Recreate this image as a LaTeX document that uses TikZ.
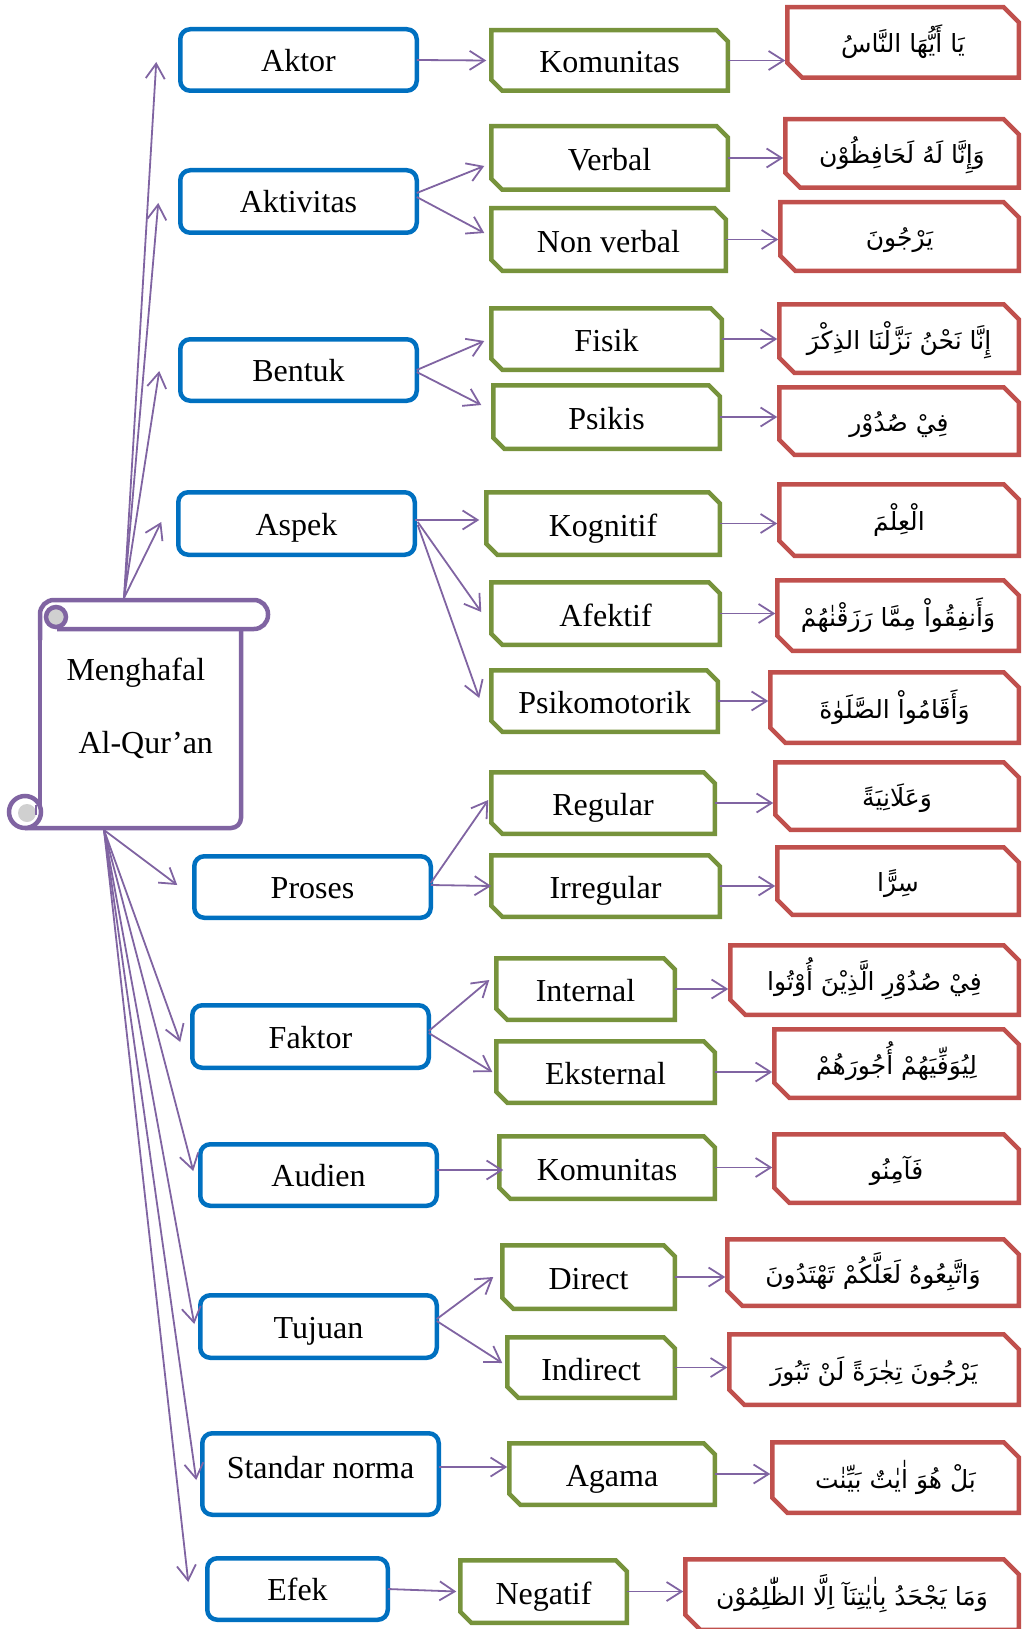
\documentclass[tikz,border=0pt]{standalone}
\usepackage{fontspec}
\setmainfont{Liberation Serif}
\newfontfamily\arabicfont[Script=Arabic]{DejaVu Sans}
\TeXXeTstate=1
\usetikzlibrary{arrows.meta}
\definecolor{boxblue}{HTML}{0070C0}
\definecolor{boxgreen}{HTML}{77933C}
\definecolor{boxred}{HTML}{C0504D}
\definecolor{scrollpurple}{HTML}{8064A2}
\definecolor{curlgray}{HTML}{D0D0D0}
\newcommand\arabtext[1]{\beginR #1\endR}
\tikzset{
  % box given by its outer edges: left, top, right, bottom (border is 4.5 wide)
  spanbox/.style args={#1,#2,#3,#4}{minimum width=#3-#1-4.5, minimum height=#4-#2-4.5,
    at={({(#1+#3)/2},{(#2+#4)/2})}},
  latin/.style={font=\fontsize{32}{38}\selectfont},
  bbox/.style={latin, draw=boxblue, line width=4.5pt, rounded corners=10pt,
    outer sep=0pt, inner sep=0pt, text height=29pt, text depth=6pt},
  gbox/.style={latin, outer sep=0pt, inner sep=0pt, text height=31pt, text depth=6pt},
  rbox/.style={font=\arabicfont\fontsize{25}{30}\selectfont, outer sep=0pt,
    inner sep=0pt, text height=27pt, text depth=6pt},
  gframe/.style={draw=boxgreen, line width=4.5pt},
  rframe/.style={draw=boxred, line width=4.5pt},
  conn/.style={draw=scrollpurple, line width=1.8pt,
    -{Straight Barb[length=15pt,width=19pt]}},
}
\begin{document}
\begin{tikzpicture}[x=1pt,y=-1pt]
\useasboundingbox (0,0) rectangle (1021,1629);

% ---------- scroll ----------
\begin{scope}[draw=scrollpurple, line width=4.5pt]
  \draw[rounded corners=10pt] (25,828) -- (241,828) -- (241,629);
  \draw (40,640) -- (40,812);
  \draw[fill=white, rounded corners=14pt] (40,640) -- (40,600) -- (268,600) -- (268,629) -- (57,629);
  \draw[fill=curlgray] (56,617) circle[radius=10];
  \draw[fill=white] (25,812) circle[radius=16];
  \fill[curlgray] (27,813) circle[radius=9];
  \draw[line width=2pt] (36,805) -- (36,815);
\end{scope}
\node[latin, anchor=base west] (title1) at (63,680) {Menghafal};
\node[latin, anchor=base west] (title2) at (75,753) {Al-Qur’an};
\coordinate (sTop) at (124,598);
\coordinate (sBot) at (104,830);

% ---------- blue column ----------
\node[bbox, spanbox={178,27,419,93}]     (b1) {Aktor};
\node[bbox, spanbox={178,168,419,235}]   (b2) {Aktivitas};
\node[bbox, spanbox={178,337,419,403}]   (b3) {Bentuk};
\node[bbox, spanbox={176,490,417,557}]   (b4) {Aspek};
\node[bbox, spanbox={192,854,433,920}]   (b5) {Proses};
\node[bbox, spanbox={190,1003,431,1070}] (b6) {Faktor};
\node[bbox, spanbox={198,1142,439,1208}] (b7) {Audien};
\node[bbox, spanbox={198,1293,439,1360}] (b8) {Tujuan};
\node[bbox, spanbox={200,1431,441,1517}, text height=20pt, text depth=11pt] (b9) {Standar norma};
\node[bbox, spanbox={205,1556,390,1622}] (b10) {Efek};

% ---------- green column ----------
\node[gbox, spanbox={489,28,730,93}]     (g1) {Komunitas};
\node[gbox, spanbox={489,124,730,192}]   (g2) {Verbal};
\node[gbox, spanbox={489,206,728,273}]   (g3) {Non verbal};
\node[gbox, spanbox={489,306,724,372}]   (g4) {Fisik};
\node[gbox, spanbox={491,383,722,451}]   (g5) {Psikis};
\node[gbox, spanbox={484,490,722,557}]   (g6) {Kognitif};
\node[gbox, spanbox={489,580,722,647}]   (g7) {Afektif};
\node[gbox, spanbox={489,668,720,734}]   (g8) {Psikomotorik};
\node[gbox, spanbox={489,770,717,836}]   (g9) {Regular};
\node[gbox, spanbox={489,853,722,919}]   (g10) {Irregular};
\node[gbox, spanbox={494,956,677,1022}]  (g11) {Internal};
\node[gbox, spanbox={494,1039,717,1105}] (g12) {Eksternal};
\node[gbox, spanbox={497,1134,717,1201}] (g13) {Komunitas};
\node[gbox, spanbox={500,1243,677,1311}] (g14) {Direct};
\node[gbox, spanbox={505,1335,677,1400}] (g15) {Indirect};
\node[gbox, spanbox={507,1441,717,1507}] (g16) {Agama};
\node[gbox, spanbox={458,1558,629,1625}] (g17) {Negatif};

% ---------- red column ----------
\node[rbox, spanbox={785,5,1021,80}]     (r1) {\arabtext{يَا أَيُّهَا النَّاسُ}};
\node[rbox, spanbox={783,117,1021,190}]  (r2) {\arabtext{وَإِنَّا لَهُ لَحَافِظُوْن}};
\node[rbox, spanbox={778,200,1021,273}]  (r3) {\arabtext{يَرْجُونَ}};
\node[rbox, spanbox={777,302,1021,375}]  (r4) {\arabtext{إِنَّا نَحْنُ نَزَّلْنَا الذِكْرَ}};
\node[rbox, spanbox={777,385,1021,457}]  (r5) {\arabtext{فِيْ صُدُوْر}};
\node[rbox, spanbox={777,482,1021,558}]  (r6) {\arabtext{الْعِلْمَ}};
\node[rbox, spanbox={775,578,1021,653}]  (r7) {\arabtext{وَأَنفِقُواْ مِمَّا رَزَقْنٰهُمْ}};
\node[rbox, spanbox={768,670,1021,745}]  (r8) {\arabtext{وَأَقَامُواْ الصَّلَوٰةَ}};
\node[rbox, spanbox={773,760,1021,832}]  (r9) {\arabtext{وَعَلَانِيَةً}};
\node[rbox, spanbox={775,845,1021,917}]  (r10) {\arabtext{سِرًّا}};
\node[rbox, spanbox={728,943,1021,1017}] (r11) {\arabtext{فِيْ صُدُوْرِ الَّذِيْنَ أُوْتُوا}};
\node[rbox, spanbox={772,1027,1021,1100}] (r12) {\arabtext{لِيُوَفِّيَهُمْ أُجُورَهُمْ}};
\node[rbox, spanbox={772,1132,1021,1205}] (r13) {\arabtext{فَآمِنُو}};
\node[rbox, spanbox={725,1237,1021,1308}] (r14) {\arabtext{وَاتَّبِعُوهُ لَعَلَّكُمْ تَهْتَدُونَ}};
\node[rbox, spanbox={727,1332,1021,1407}] (r15) {\arabtext{يَرْجُونَ تِجٰرَةً لَنْ تَبُورَ}};
\node[rbox, spanbox={770,1440,1021,1515}] (r16) {\arabtext{بَلْ هُوَ اٰيٰتٌ بَيِّنٰت}};
\node[rbox, spanbox={683,1557,1021,1632}] (r17) {\arabtext{وَمَا يَجْحَدُ بِاٰيٰتِنَآ اِلَّا الظّٰلِمُوْن}};

% snipped frames: cut top-right and bottom-left corners
\foreach \i in {1,...,17} {
  \draw[gframe] (g\i.north west) -- ([xshift=-11pt]g\i.north east) -- ([yshift=-11pt]g\i.north east)
    -- (g\i.south east) -- ([xshift=11pt]g\i.south west) -- ([yshift=11pt]g\i.south west) -- cycle;
  \draw[rframe] (r\i.north west) -- ([xshift=-15pt]r\i.north east) -- ([yshift=-15pt]r\i.north east)
    -- (r\i.south east) -- ([xshift=15pt]r\i.south west) -- ([yshift=15pt]r\i.south west) -- cycle;
  \draw[conn, shorten >=2pt] (g\i.east) -- (g\i.east -| r\i.west);
}

% ---------- scroll to categories ----------
\draw[conn] (sTop) -- ([xshift=-24pt,yshift=-2pt]b1.west);
\draw[conn] (sTop) -- ([xshift=-22pt,yshift=-1.5pt]b2.west);
\draw[conn] (sTop) -- ([xshift=-21pt,yshift=-1pt]b3.west);
\draw[conn] (sTop) -- ([xshift=-17pt,yshift=1.5pt]b4.west);
\draw[conn] (sBot) -- ([xshift=-17pt,yshift=2pt]b5.west);
\draw[conn] (sBot) -- ([xshift=-12pt,yshift=-5.5pt]b6.west);
\draw[conn] (sBot) -- ([xshift=-7pt,yshift=4pt]b7.west);
\draw[conn] (sBot) -- ([xshift=-6pt,yshift=2.5pt]b8.west);
\draw[conn] (sBot) -- ([xshift=-6pt,yshift=-6pt]b9.west);
\draw[conn] (sBot) -- ([xshift=-19pt,yshift=7pt]b10.west);

% ---------- categories to sub-categories ----------
\draw[conn] (b1.east) -- ([xshift=-5pt]g1.west);
\draw[conn] ([yshift=8.5pt]b2.east) -- ([xshift=-7pt,yshift=-8pt]g2.west);
\draw[conn] ([yshift=4.5pt]b2.east) -- ([xshift=-7pt,yshift=6.5pt]g3.west);
\draw[conn] (b3.east) -- ([xshift=-7pt,yshift=-2pt]g4.west);
\draw[conn] ([yshift=-2pt]b3.east) -- ([xshift=-12pt,yshift=12pt]g5.west);
\draw[conn] ([yshift=3.5pt]b4.east) -- ([xshift=-7pt,yshift=3.5pt]g6.west);
\draw[conn] ([xshift=3pt,yshift=1.5pt]b4.east) -- ([xshift=-10pt,yshift=1.5pt]g7.west);
\draw[conn] ([xshift=3pt,yshift=-1.5pt]b4.east) -- ([xshift=-12pt,yshift=3pt]g8.west);
\draw[conn] ([yshift=4pt]b5.east) -- ([xshift=-3pt,yshift=3pt]g9.west);
\draw[conn] ([yshift=2pt]b5.east) -- (g10.west);
\draw[conn] ([yshift=5.5pt]b6.east) -- ([xshift=-7pt,yshift=9pt]g11.west);
\draw[conn] ([yshift=3.5pt]b6.east) -- ([xshift=-4pt]g12.west);
\draw[conn] ([yshift=5pt]b7.east) -- ([xshift=4pt,yshift=-2.5pt]g13.west);
\draw[conn] ([yshift=7.5pt]b8.east) -- ([xshift=-9pt]g14.west);
\draw[conn] ([yshift=5.5pt]b8.east) -- ([xshift=-5pt,yshift=4.5pt]g15.west);
\draw[conn] ([yshift=7pt]b9.east) -- ([xshift=-2pt,yshift=7pt]g16.west);
\draw[conn] (b10.east) -- ([xshift=-4pt]g17.west);
\end{tikzpicture}
\end{document}
